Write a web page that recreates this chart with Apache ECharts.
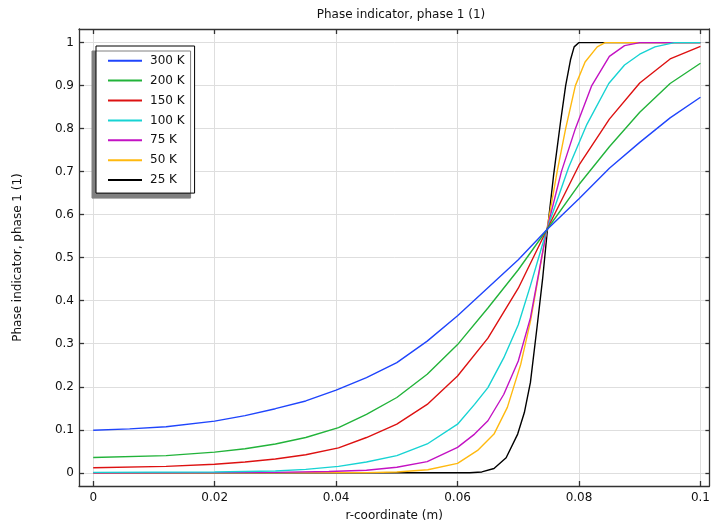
<!DOCTYPE html>
<html>
<head>
<meta charset="utf-8">
<script src="https://cdn.jsdelivr.net/npm/echarts@6/dist/echarts.min.js"></script>
<style>html,body{margin:0;padding:0;background:#fff;overflow:hidden}#c{width:713px;height:527px}</style>
</head>
<body>
<div id="c"></div>
<script>
// ---- data ----
const seriesNames = ['300 K', '200 K', '150 K', '100 K', '75 K', '50 K', '25 K'];

const x300 = [0, 0.006, 0.012, 0.02, 0.025, 0.03, 0.035, 0.04, 0.045, 0.05, 0.055, 0.06, 0.065, 0.07, 0.0747, 0.08, 0.085, 0.09, 0.095, 0.1];
const y300 = [0.099, 0.102, 0.107, 0.12, 0.133, 0.149, 0.167, 0.192, 0.221, 0.256, 0.306, 0.365, 0.43, 0.495, 0.565, 0.637, 0.708, 0.768, 0.825, 0.873];

const x200 = [0, 0.012, 0.02, 0.025, 0.03, 0.035, 0.0404, 0.045, 0.05, 0.055, 0.06, 0.065, 0.07, 0.0747, 0.08, 0.085, 0.09, 0.095, 0.1];
const y200 = [0.0355, 0.04, 0.048, 0.056, 0.067, 0.082, 0.105, 0.136, 0.175, 0.229, 0.298, 0.383, 0.472, 0.565, 0.67, 0.758, 0.838, 0.905, 0.952];

const x150 = [0, 0.012, 0.02, 0.025, 0.03, 0.035, 0.0404, 0.045, 0.05, 0.055, 0.06, 0.065, 0.07, 0.0747, 0.08, 0.085, 0.09, 0.095, 0.1];
const y150 = [0.0116, 0.015, 0.02, 0.025, 0.032, 0.042, 0.058, 0.082, 0.113, 0.159, 0.225, 0.313, 0.429, 0.565, 0.715, 0.822, 0.906, 0.962, 0.991];

const x100 = [0, 0.02, 0.03, 0.035, 0.0404, 0.045, 0.05, 0.055, 0.06, 0.0628, 0.065, 0.0676, 0.07, 0.072, 0.0747, 0.0783, 0.0813, 0.0849, 0.0875, 0.09, 0.0925, 0.0957, 0.1];
const y100 = [0.001, 0.002, 0.004, 0.008, 0.015, 0.025, 0.04, 0.067, 0.113, 0.159, 0.198, 0.267, 0.344, 0.435, 0.565, 0.71, 0.81, 0.905, 0.948, 0.973, 0.99, 1, 1];

const x75 = [0, 0.03, 0.0388, 0.045, 0.05, 0.055, 0.06, 0.0628, 0.065, 0.0676, 0.07, 0.072, 0.0747, 0.0771, 0.0794, 0.0821, 0.085, 0.0875, 0.09, 0.1];
const y75 = [0, 0.001, 0.003, 0.006, 0.013, 0.026, 0.059, 0.09, 0.121, 0.182, 0.26, 0.36, 0.565, 0.7, 0.8, 0.9, 0.968, 0.993, 1, 1];

const x50 = [0, 0.045, 0.05, 0.0551, 0.06, 0.0633, 0.066, 0.0682, 0.0704, 0.072, 0.0747, 0.0764, 0.0778, 0.0794, 0.081, 0.083, 0.0843, 0.1];
const y50 = [0, 0.0005, 0.002, 0.007, 0.022, 0.052, 0.09, 0.152, 0.252, 0.352, 0.565, 0.7, 0.8, 0.9, 0.955, 0.99, 1, 1];

const x25 = [0, 0.062, 0.064, 0.066, 0.068, 0.0699, 0.071, 0.072, 0.0731, 0.074, 0.0748, 0.0758, 0.077, 0.0778, 0.0786, 0.0792, 0.08, 0.1];
const y25 = [0, 0, 0.002, 0.01, 0.035, 0.09, 0.14, 0.21, 0.34, 0.45, 0.565, 0.69, 0.82, 0.9, 0.96, 0.99, 1, 1];

const xTicks = [0, 0.02, 0.04, 0.06, 0.08, 0.1];
const yTicks = [0, 0.1, 0.2, 0.3, 0.4, 0.5, 0.6, 0.7, 0.8, 0.9, 1];

// ---- chart ----
const xsAll = [x300, x200, x150, x100, x75, x50, x25];
const ysAll = [y300, y200, y150, y100, y75, y50, y25];
const colors = ['#1f45fc', '#22b33a', '#dd1111', '#17d3d3', '#c312c3', '#ffb90f', '#000000'];
const FONT = 'DejaVu Sans';
const axisLineStyle = { color: '#333', width: 1.3 };

const chart = echarts.init(document.getElementById('c'), null, { renderer: 'canvas', width: 713, height: 527 });
const series = seriesNames.map((n, i) => ({
  name: n,
  type: 'line',
  xAxisIndex: 0, yAxisIndex: 0,
  data: xsAll[i].map((x, j) => [x, ysAll[i][j]]),
  symbol: 'none',
  showSymbol: false,
  smooth: false,
  lineStyle: { color: colors[i], width: 1.4 },
  itemStyle: { color: colors[i] },
  animation: false,
  z: 10 - i
}));

chart.setOption({
  animation: false,
  backgroundColor: '#fff',
  textStyle: { fontFamily: FONT },
  title: {
    text: 'Phase indicator, phase 1 (1)',
    left: 396, top: 4, textAlign: 'center',
    textStyle: { fontFamily: FONT, fontSize: 12, fontWeight: 'normal', color: '#111' }
  },
  grid: { left: 79, right: 0.5, top: 29, bottom: 38, containLabel: false },
  legend: {
    orient: 'vertical',
    left: 96, top: 46,
    padding: [8.7, 10, 7, 11],
    itemWidth: 34, itemHeight: 14, itemGap: 7.9,
    backgroundColor: '#fff',
    borderColor: '#000', borderWidth: 1,
    shadowColor: '#808080', shadowBlur: 0, shadowOffsetX: -4, shadowOffsetY: 5,
    itemStyle: { opacity: 0 },
    textStyle: { fontFamily: FONT, fontSize: 12, color: '#111', padding: [0, 0, 0, 3] },
    data: seriesNames
  },
  xAxis: [{
    type: 'value', position: 'bottom',
    min: -0.00234, max: 0.10147,
    name: 'r-coordinate (m)', nameLocation: 'middle', nameGap: 24,
    nameTextStyle: { fontFamily: FONT, fontSize: 12, color: '#111' },
    axisLine: { show: true, onZero: false, lineStyle: axisLineStyle },
    axisTick: { show: true, inside: true, length: 5, customValues: xTicks, lineStyle: axisLineStyle },
    axisLabel: { customValues: xTicks, margin: 6, fontFamily: FONT, fontSize: 12, color: '#111', showMinLabel: true, showMaxLabel: true },
    splitLine: { show: true, lineStyle: { color: '#dedede', width: 1 } }
  }, {
    type: 'value', position: 'top',
    min: -0.00234, max: 0.10147,
    axisLine: { show: true, onZero: false, lineStyle: axisLineStyle },
    axisTick: { show: true, inside: true, length: 5, customValues: xTicks, lineStyle: axisLineStyle },
    axisLabel: { show: false },
    splitLine: { show: false }
  }],
  yAxis: [{
    type: 'value', position: 'left',
    min: -0.0307, max: 1.0316,
    name: 'Phase indicator, phase 1 (1)', nameLocation: 'middle', nameGap: 55,
    nameTextStyle: { fontFamily: FONT, fontSize: 12, color: '#111' },
    axisLine: { show: true, onZero: false, lineStyle: axisLineStyle },
    axisTick: { show: true, inside: true, length: 5, customValues: yTicks, lineStyle: axisLineStyle },
    axisLabel: { customValues: yTicks, margin: 5, fontFamily: FONT, fontSize: 12, color: '#111' },
    splitLine: { show: true, lineStyle: { color: '#dedede', width: 1 } }
  }, {
    type: 'value', position: 'right',
    min: -0.0307, max: 1.0316,
    axisLine: { show: true, onZero: false, lineStyle: axisLineStyle },
    axisTick: { show: true, inside: true, length: 4, customValues: yTicks, lineStyle: axisLineStyle },
    axisLabel: { show: false },
    splitLine: { show: false }
  }],
  series: series
});
</script>
</body>
</html>
